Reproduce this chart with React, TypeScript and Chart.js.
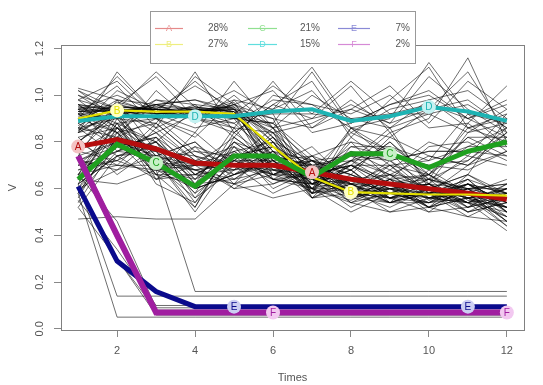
import { useEffect, useRef } from "react";
import { Chart, registerables } from "chart.js";

Chart.register(...registerables);

const times = [1, 2, 3, 4, 5, 6, 7, 8, 9, 10, 11, 12];
const xTicks = [2, 4, 6, 8, 10, 12];
const yTicks = [0, 0.2, 0.4, 0.6, 0.8, 1.0, 1.2];
const clusterLetters = ["A", "B", "C", "D", "E", "F"];
const clusterPercents = ["28%", "27%", "21%", "15%", "7%", "2%"];

// cluster mean trajectories
const meanA = [0.78, 0.81, 0.77, 0.71, 0.70, 0.70, 0.67, 0.64, 0.62, 0.60, 0.58, 0.555];
const meanB = [0.90, 0.935, 0.93, 0.93, 0.92, 0.78, 0.65, 0.585, 0.58, 0.575, 0.575, 0.57];
const meanC = [0.64, 0.79, 0.71, 0.61, 0.74, 0.74, 0.65, 0.75, 0.75, 0.69, 0.76, 0.80];
const meanD = [0.89, 0.91, 0.91, 0.91, 0.91, 0.93, 0.94, 0.89, 0.91, 0.95, 0.93, 0.89];
const meanE = [0.61, 0.29, 0.16, 0.095, 0.095, 0.095, 0.095, 0.095, 0.095, 0.095, 0.095, 0.095];
const meanF = [0.74, 0.40, 0.07, 0.07, 0.07, 0.07, 0.07, 0.07, 0.07, 0.07, 0.07, 0.07];

// individual trajectories
const trajA = [
  [0.85, 0.92, 0.74, 0.80, 0.66, 0.72, 0.60, 0.70, 0.58, 0.66, 0.55, 0.52],
  [0.70, 0.76, 0.84, 0.66, 0.75, 0.64, 0.72, 0.58, 0.66, 0.55, 0.62, 0.50],
  [0.92, 0.80, 0.70, 0.78, 0.62, 0.80, 0.64, 0.62, 0.70, 0.58, 0.54, 0.60],
  [0.64, 0.88, 0.80, 0.62, 0.72, 0.66, 0.74, 0.68, 0.56, 0.64, 0.60, 0.48],
  [0.80, 0.70, 0.86, 0.72, 0.78, 0.60, 0.68, 0.56, 0.64, 0.52, 0.66, 0.56],
  [0.96, 0.84, 0.72, 0.68, 0.64, 0.74, 0.58, 0.66, 0.60, 0.62, 0.50, 0.58],
  [0.74, 0.98, 0.76, 0.74, 0.68, 0.70, 0.78, 0.62, 0.54, 0.68, 0.58, 0.46],
  [0.68, 0.72, 0.66, 0.84, 0.70, 0.76, 0.62, 0.72, 0.66, 0.56, 0.62, 0.54],
  [0.88, 0.78, 0.82, 0.64, 0.80, 0.68, 0.66, 0.58, 0.68, 0.60, 0.52, 0.62],
  [0.76, 0.86, 0.68, 0.70, 0.60, 0.62, 0.70, 0.64, 0.58, 0.54, 0.64, 0.50],
  [0.58, 0.82, 0.90, 0.76, 0.74, 0.78, 0.60, 0.70, 0.62, 0.66, 0.56, 0.60],
  [0.82, 0.66, 0.78, 0.60, 0.66, 0.72, 0.74, 0.60, 0.72, 0.58, 0.60, 0.52],
  [1.00, 0.90, 0.74, 0.70, 0.76, 0.64, 0.62, 0.68, 0.56, 0.62, 0.54, 0.56],
  [0.72, 0.80, 0.64, 0.78, 0.72, 0.82, 0.68, 0.56, 0.64, 0.60, 0.66, 0.58],
  [0.62, 0.74, 0.80, 0.66, 0.62, 0.70, 0.72, 0.66, 0.60, 0.56, 0.58, 0.44],
  [0.90, 0.84, 0.88, 0.74, 0.70, 0.66, 0.64, 0.72, 0.62, 0.64, 0.60, 0.62],
  [0.47, 0.48, 0.47, 0.47, 0.62, 0.56, 0.60, 0.54, 0.50, 0.52, 0.48, 0.46],
  [0.86, 0.74, 0.78, 0.68, 0.62, 0.66, 0.70, 0.60, 0.56, 0.58, 0.62, 0.54],
  [0.66, 0.92, 0.72, 0.76, 0.70, 0.58, 0.66, 0.70, 0.64, 0.52, 0.56, 0.48],
  [0.78, 0.82, 0.70, 0.62, 0.78, 0.70, 0.56, 0.64, 0.66, 0.64, 0.52, 0.56],
  [0.94, 0.76, 0.84, 0.72, 0.66, 0.74, 0.64, 0.58, 0.70, 0.56, 0.60, 0.50],
  [0.72, 0.68, 0.74, 0.80, 0.64, 0.68, 0.72, 0.66, 0.58, 0.62, 0.56, 0.60],
  [0.84, 0.88, 0.66, 0.66, 0.74, 0.62, 0.68, 0.62, 0.62, 0.54, 0.62, 0.52],
  [0.60, 0.78, 0.82, 0.70, 0.68, 0.76, 0.62, 0.68, 0.54, 0.60, 0.50, 0.54],
  [0.98, 0.86, 0.76, 0.64, 0.72, 0.66, 0.60, 0.60, 0.64, 0.66, 0.58, 0.46],
  [0.76, 0.72, 0.88, 0.74, 0.60, 0.70, 0.70, 0.62, 0.60, 0.58, 0.64, 0.58],
  [0.80, 0.94, 0.70, 0.68, 0.70, 0.64, 0.66, 0.70, 0.62, 0.60, 0.54, 0.42],
];
const trajB = [
  [0.94, 0.96, 0.92, 0.95, 0.93, 0.70, 0.60, 0.55, 0.62, 0.52, 0.60, 0.56],
  [0.86, 1.02, 0.94, 0.90, 0.96, 0.86, 0.66, 0.62, 0.54, 0.60, 0.56, 0.52],
  [0.92, 0.90, 0.98, 0.93, 0.88, 0.74, 0.70, 0.58, 0.60, 0.56, 0.62, 0.58],
  [1.02, 0.94, 0.90, 0.96, 0.94, 0.80, 0.58, 0.64, 0.56, 0.62, 0.54, 0.60],
  [0.84, 0.93, 0.95, 0.92, 0.90, 0.92, 0.62, 0.56, 0.64, 0.58, 0.58, 0.54],
  [0.90, 1.08, 0.92, 0.94, 0.95, 0.66, 0.72, 0.60, 0.58, 0.54, 0.60, 0.62],
  [0.95, 0.92, 0.93, 1.06, 0.92, 0.84, 0.64, 0.52, 0.60, 0.62, 0.52, 0.56],
  [0.88, 0.95, 0.94, 0.93, 0.94, 0.76, 0.56, 0.62, 0.56, 0.58, 0.64, 0.50],
  [0.93, 0.94, 0.90, 0.92, 0.90, 0.88, 0.74, 0.58, 0.52, 0.60, 0.56, 0.58],
  [0.80, 0.92, 0.96, 0.94, 0.93, 0.72, 0.60, 0.64, 0.62, 0.56, 0.54, 0.62],
  [0.96, 0.93, 0.94, 0.92, 0.98, 0.82, 0.68, 0.54, 0.58, 0.64, 0.58, 0.52],
  [0.91, 0.96, 0.93, 0.90, 0.92, 0.64, 0.62, 0.60, 0.60, 0.52, 0.60, 0.60],
  [0.89, 0.94, 1.10, 0.95, 0.91, 0.78, 0.66, 0.56, 0.54, 0.58, 0.62, 0.54],
  [0.98, 0.93, 0.92, 0.93, 0.86, 0.84, 0.58, 0.62, 0.66, 0.60, 0.56, 0.58],
  [0.85, 0.97, 0.93, 0.94, 0.92, 0.74, 0.70, 0.58, 0.56, 0.54, 0.58, 0.64],
  [0.93, 0.95, 0.94, 0.93, 0.94, 0.68, 0.64, 0.58, 0.56, 0.60, 0.54, 0.48],
  [0.94, 0.93, 0.95, 0.94, 0.92, 0.86, 0.58, 0.60, 0.50, 0.56, 0.58, 0.56],
  [0.92, 0.94, 0.93, 0.95, 0.93, 0.74, 0.66, 0.54, 0.62, 0.50, 0.52, 0.60],
  [1.03, 0.98, 0.92, 0.92, 0.96, 0.80, 0.62, 0.64, 0.58, 0.58, 0.50, 0.54],
  [0.95, 0.94, 0.94, 0.93, 0.90, 0.70, 0.68, 0.56, 0.60, 0.62, 0.60, 0.46],
  [0.90, 0.92, 0.96, 0.98, 0.94, 0.90, 0.56, 0.58, 0.54, 0.54, 0.56, 0.52],
  [0.94, 1.00, 0.93, 0.94, 0.93, 0.76, 0.72, 0.62, 0.56, 0.50, 0.62, 0.58],
  [0.96, 0.94, 0.92, 0.93, 0.95, 0.82, 0.60, 0.50, 0.58, 0.56, 0.54, 0.50],
  [0.87, 0.95, 0.94, 0.92, 0.97, 0.72, 0.64, 0.60, 0.54, 0.58, 0.48, 0.56],
  [0.93, 0.93, 0.96, 0.90, 0.92, 0.88, 0.70, 0.56, 0.60, 0.52, 0.56, 0.44],
];
const trajC = [
  [0.56, 0.84, 0.66, 0.52, 0.82, 0.70, 0.58, 0.86, 0.72, 0.62, 0.84, 0.88],
  [0.70, 0.72, 0.80, 0.66, 0.68, 0.84, 0.70, 0.66, 0.82, 0.74, 0.70, 0.76],
  [0.62, 0.90, 0.70, 0.56, 0.76, 0.66, 0.74, 0.80, 0.64, 0.78, 0.80, 0.72],
  [0.52, 0.74, 0.64, 0.70, 0.70, 0.80, 0.56, 0.72, 0.86, 0.60, 0.66, 0.90],
  [0.74, 0.80, 0.76, 0.58, 0.84, 0.72, 0.62, 0.70, 0.70, 0.72, 0.92, 0.78],
  [0.60, 0.68, 0.82, 0.62, 0.64, 0.76, 0.68, 0.84, 0.76, 0.64, 0.72, 0.84],
  [0.66, 0.88, 0.62, 0.54, 0.78, 0.64, 0.60, 0.76, 0.68, 0.80, 0.74, 0.70],
  [0.68, 0.76, 0.74, 0.68, 0.72, 0.86, 0.72, 0.68, 0.80, 0.66, 0.78, 0.86],
  [0.58, 0.82, 0.78, 0.60, 0.66, 0.70, 0.66, 0.78, 0.74, 0.70, 0.68, 0.76],
  [0.72, 0.70, 0.68, 0.64, 0.80, 0.74, 0.64, 0.72, 0.78, 0.68, 0.82, 0.82],
  [0.64, 0.86, 0.72, 0.50, 0.74, 0.78, 0.70, 0.74, 0.72, 0.76, 0.76, 0.74],
  [0.66, 0.78, 0.70, 0.72, 0.70, 0.68, 0.62, 0.80, 0.76, 0.58, 0.70, 0.84],
  [0.54, 0.80, 0.74, 0.58, 0.70, 0.82, 0.60, 0.82, 0.70, 0.66, 0.86, 0.80],
  [0.70, 0.84, 0.66, 0.62, 0.86, 0.66, 0.66, 0.70, 0.84, 0.62, 0.74, 0.92],
  [0.62, 0.74, 0.76, 0.54, 0.72, 0.72, 0.58, 0.78, 0.78, 0.72, 0.78, 0.78],
  [0.76, 0.92, 0.64, 0.66, 0.76, 0.80, 0.72, 0.74, 0.66, 0.74, 0.70, 0.82],
  [0.58, 0.76, 0.80, 0.56, 0.68, 0.74, 0.64, 0.86, 0.76, 0.66, 0.82, 0.74],
  [0.66, 0.70, 0.70, 0.70, 0.82, 0.70, 0.70, 0.72, 0.74, 0.70, 0.72, 0.86],
  [0.60, 0.86, 0.68, 0.60, 0.66, 0.78, 0.62, 0.68, 0.80, 0.64, 0.88, 0.76],
  [0.72, 0.78, 0.72, 0.52, 0.80, 0.68, 0.68, 0.76, 0.72, 0.76, 0.76, 0.80],
];
const trajD = [
  [0.92, 1.04, 0.86, 1.10, 0.84, 0.96, 1.06, 0.82, 0.98, 1.12, 0.86, 0.92],
  [0.86, 0.82, 1.02, 0.88, 1.00, 0.86, 0.90, 1.04, 0.84, 0.90, 1.16, 0.80],
  [1.00, 0.94, 0.84, 0.92, 0.96, 1.02, 0.84, 0.88, 0.96, 1.00, 0.90, 0.98],
  [0.84, 1.10, 0.92, 0.86, 0.90, 0.88, 1.10, 0.86, 0.82, 0.94, 0.98, 0.86],
  [0.96, 0.86, 0.98, 0.96, 0.82, 1.00, 0.96, 0.92, 1.00, 0.86, 0.88, 1.04],
  [0.80, 0.92, 0.94, 1.04, 0.94, 0.84, 0.88, 0.96, 0.88, 1.08, 0.94, 0.84],
  [0.94, 0.88, 0.90, 0.82, 0.98, 0.94, 1.02, 0.84, 0.94, 0.98, 1.02, 0.90],
  [0.88, 0.98, 0.96, 0.90, 0.86, 1.06, 0.86, 0.98, 0.86, 0.92, 0.84, 0.94],
  [0.82, 0.86, 0.80, 0.94, 1.02, 0.92, 0.92, 0.90, 0.92, 0.96, 0.90, 0.82],
  [0.90, 0.96, 1.08, 0.90, 0.88, 0.98, 0.96, 0.86, 0.90, 1.14, 0.92, 0.88],
  [0.86, 0.90, 0.88, 1.08, 0.96, 0.90, 0.86, 0.94, 1.04, 0.88, 1.06, 0.94],
  [0.98, 1.06, 0.90, 0.84, 1.06, 0.86, 1.00, 0.90, 0.86, 0.98, 0.86, 0.90],
  [0.92, 0.84, 0.96, 0.98, 0.92, 1.04, 0.92, 1.06, 0.92, 0.92, 0.96, 0.86],
  [0.84, 0.94, 0.86, 0.94, 0.90, 0.94, 1.12, 0.88, 0.96, 1.02, 0.90, 0.96],
  [1.02, 0.90, 0.94, 0.90, 0.84, 0.96, 0.90, 0.94, 0.88, 0.94, 1.10, 0.84],
];
const trajE = [
  [0.62, 0.14, 0.14, 0.14, 0.14, 0.14, 0.14, 0.14, 0.14, 0.14, 0.14, 0.14],
  [0.58, 0.05, 0.05, 0.05, 0.05, 0.05, 0.05, 0.05, 0.05, 0.05, 0.05, 0.05],
  [0.64, 0.62, 0.68, 0.16, 0.16, 0.16, 0.16, 0.16, 0.16, 0.16, 0.16, 0.16],
  [0.60, 0.30, 0.08, 0.08, 0.08, 0.08, 0.08, 0.08, 0.08, 0.08, 0.08, 0.08],
  [0.55, 0.34, 0.10, 0.10, 0.10, 0.10, 0.10, 0.10, 0.10, 0.10, 0.10, 0.10],
  [0.52, 0.30, 0.06, 0.06, 0.06, 0.06, 0.06, 0.06, 0.06, 0.06, 0.06, 0.06],
  [0.66, 0.46, 0.09, 0.09, 0.09, 0.09, 0.09, 0.09, 0.09, 0.09, 0.09, 0.09],
];
const trajF = [
  [0.72, 0.38, 0.07, 0.07, 0.07, 0.07, 0.07, 0.07, 0.07, 0.07, 0.07, 0.07],
  [0.76, 0.42, 0.06, 0.06, 0.06, 0.06, 0.06, 0.06, 0.06, 0.06, 0.06, 0.06],
];

const means = [meanA, meanB, meanC, meanD, meanE, meanF];
const trajectories = [trajA, trajB, trajC, trajD, trajE, trajF];

const meanColors = ["#b50d0d", "#e3e000", "#1fa01f", "#1db3b3", "#0a0a8c", "#a01ea0"];
const meanWidths = [5, 2.2, 5, 4, 5, 6];
const paleColors = ["#f4c4c4", "#ffffc4", "#c8f0c8", "#c4f2f2", "#cccef2", "#f2c8f0"];
const legendLineColors = ["#e58a8a", "#eeee80", "#90e090", "#60dede", "#8a8ad6", "#d68ad6"];

const FONT = "'Liberation Sans', Arial, sans-serif";

export default function App() {
  const ref = useRef<HTMLCanvasElement | null>(null);

  useEffect(() => {
    if (!ref.current) return;
    const datasets: any[] = [];
    trajectories.forEach((group) =>
      group.forEach((traj) =>
        datasets.push({
          data: times.map((t, i) => ({ x: t, y: traj[i] })),
          borderColor: "rgba(0,0,0,0.72)",
          borderWidth: 0.8,
          pointRadius: 0,
          order: 100,
        })
      )
    );
    means.forEach((m, k) =>
      datasets.push({
        data: times.map((t, i) => ({ x: t, y: m[i] })),
        borderColor: meanColors[k],
        borderWidth: meanWidths[k],
        pointRadius: 0,
        order: 10 - k,
      })
    );

    const overlay = {
      id: "overlay",
      afterDatasetsDraw(chart: any) {
        const { ctx, scales } = chart;
        const xs = scales.x;
        const ys = scales.y;
        ctx.save();
        means.forEach((m, k) => {
          [k, k + 6].forEach((idx) => {
            const px = xs.getPixelForValue(times[idx]);
            const py = ys.getPixelForValue(m[idx]);
            ctx.beginPath();
            ctx.arc(px, py, 7, 0, Math.PI * 2);
            ctx.fillStyle = paleColors[k];
            ctx.fill();
            ctx.fillStyle = meanColors[k];
            ctx.font = `10px ${FONT}`;
            ctx.textAlign = "center";
            ctx.textBaseline = "middle";
            ctx.fillText(clusterLetters[k], px, py + 0.5);
          });
        });
        ctx.restore();
      },
      afterDraw(chart: any) {
        const { ctx, chartArea, scales } = chart;
        ctx.save();
        // plot box
        ctx.strokeStyle = "#808080";
        ctx.lineWidth = 1;
        ctx.strokeRect(
          Math.round(chartArea.left) + 0.5,
          Math.round(chartArea.top) + 0.5,
          Math.round(chartArea.right - chartArea.left),
          Math.round(chartArea.bottom - chartArea.top)
        );
        // y tick labels (parallel to axis)
        ctx.fillStyle = "#555";
        ctx.font = `11px ${FONT}`;
        ctx.textAlign = "center";
        ctx.textBaseline = "middle";
        yTicks.forEach((v) => {
          const py = scales.y.getPixelForValue(v);
          ctx.save();
          ctx.translate(40, py);
          ctx.rotate(-Math.PI / 2);
          ctx.fillText(v.toFixed(1), 0, 0);
          ctx.restore();
        });
        // legend
        const lx = 150, ly = 11, lw = 265, lh = 52;
        ctx.fillStyle = "#fff";
        ctx.fillRect(lx, ly, lw, lh);
        ctx.strokeStyle = "#999";
        ctx.strokeRect(lx + 0.5, ly + 0.5, lw, lh);
        const colLine = [[155, 183], [248, 277], [338, 370]];
        const colText = [228, 320, 410];
        const rowY = [28, 44];
        for (let k = 0; k < 6; k++) {
          const col = Math.floor(k / 2);
          const row = k % 2;
          const y = rowY[row];
          const [x1, x2] = colLine[col];
          ctx.strokeStyle = legendLineColors[k];
          ctx.lineWidth = 1.2;
          ctx.beginPath();
          ctx.moveTo(x1, y + 0.5);
          ctx.lineTo(x2, y + 0.5);
          ctx.stroke();
          ctx.fillStyle = legendLineColors[k];
          ctx.font = `9px ${FONT}`;
          ctx.textAlign = "center";
          ctx.textBaseline = "middle";
          ctx.fillText(clusterLetters[k], (x1 + x2) / 2, y + 0.5);
          ctx.fillStyle = "#555";
          ctx.font = `10px ${FONT}`;
          ctx.textAlign = "right";
          ctx.fillText(clusterPercents[k], colText[col], y + 0.5);
        }
        ctx.restore();
      },
    };

    const chart = new Chart(ref.current, {
      type: "line",
      data: { datasets },
      plugins: [overlay],
      options: {
        animation: false,
        responsive: false,
        devicePixelRatio: 1,
        layout: { padding: { left: 0, right: 19, top: 45, bottom: 0 } },
        plugins: { legend: { display: false }, tooltip: { enabled: false } },
        scales: {
          x: {
            type: "linear",
            min: 0.56,
            max: 12.44,
            afterBuildTicks: (s: any) => {
              s.ticks = xTicks.map((v) => ({ value: v }));
            },
            afterFit: (s: any) => {
              s.height = 55;
            },
            grid: { drawOnChartArea: false, tickLength: 7, color: "#888" },
            border: { display: false },
            ticks: {
              color: "#555",
              font: { family: FONT, size: 11 },
              padding: 7,
              maxRotation: 0,
              autoSkip: false,
            },
            title: {
              display: true,
              text: "Times",
              color: "#555",
              font: { family: FONT, size: 11 },
              padding: { top: 0, bottom: 0 },
            },
          },
          y: {
            type: "linear",
            min: -0.005,
            max: 1.215,
            afterBuildTicks: (s: any) => {
              s.ticks = yTicks.map((v) => ({ value: v }));
            },
            afterFit: (s: any) => {
              s.width = 61;
            },
            grid: { drawOnChartArea: false, tickLength: 7, color: "#888" },
            border: { display: false },
            ticks: { display: false },
            title: {
              display: true,
              text: "V",
              color: "#555",
              font: { family: FONT, size: 11 },
              padding: { top: 6, bottom: 0 },
            },
          },
        },
      },
    });
    return () => chart.destroy();
  }, []);

  return (
    <div style={{ position: "absolute", left: 0, top: 0, width: 543, height: 385, background: "#fff" }}>
      <canvas ref={ref} width={543} height={385} />
    </div>
  );
}
